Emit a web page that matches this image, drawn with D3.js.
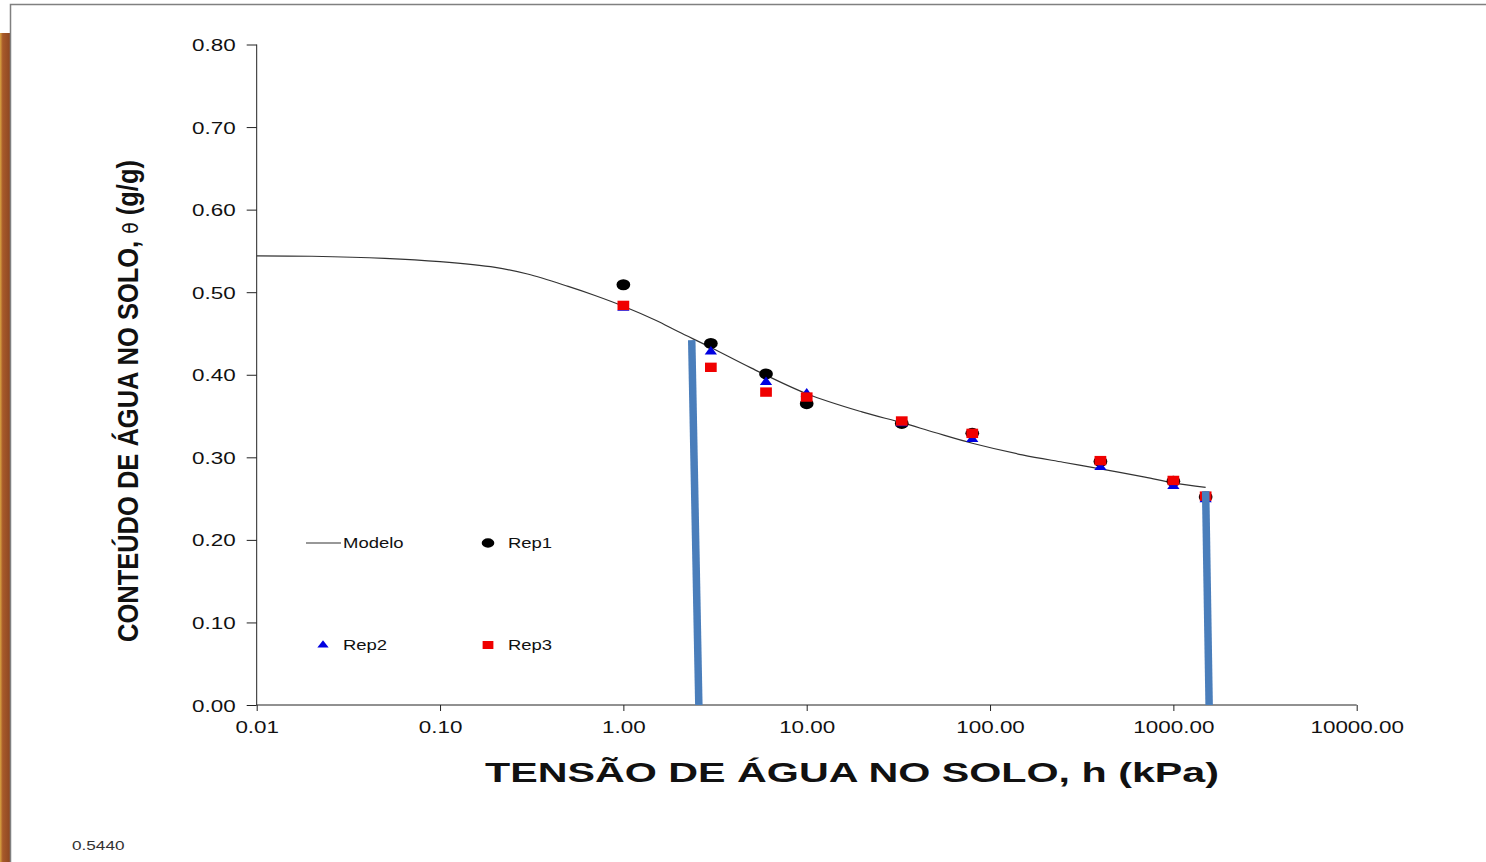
<!DOCTYPE html>
<html>
<head>
<meta charset="utf-8">
<script src="https://cdn.jsdelivr.net/npm/d3@7"></script>
<style>
  body { margin: 0; background: #fff; }
  svg { display: block; }
</style>
</head>
<body>
<div id="chart"></div>
<script>
// Tension (kPa) Of The Measured Points
const tension = [1, 3, 6, 10, 33, 80, 400, 1000, 1500];
// Water Content (g/g) Per Replicate
const rep1 = [0.509, 0.438, 0.401, 0.365, 0.341, 0.329, 0.295, 0.271, 0.252];
const rep2 = [0.481, 0.428, 0.391, 0.377, 0.341, 0.322, 0.288, 0.265, 0.249];
const rep3 = [0.484, 0.409, 0.379, 0.373, 0.344, 0.329, 0.296, 0.272, 0.253];
// Fitted Model Curve
const modelH = [0.01, 0.02, 0.05, 0.1, 0.2, 0.3, 0.5, 0.7, 1, 1.5, 2, 3, 5, 10, 20, 33, 50, 80, 150, 250, 400, 700, 1000, 1500];
const modelTheta = [0.544, 0.5435, 0.541, 0.537, 0.530, 0.522, 0.507, 0.496, 0.483, 0.466, 0.452, 0.433, 0.408, 0.377, 0.355, 0.342, 0.330, 0.317, 0.303, 0.294, 0.286, 0.276, 0.269, 0.2636];
// Blue Marker Bars: [hTop, thetaTop, hBottom, thetaBottom]
const markerBars = [[2.36, 0.442, 2.58, 0], [1500, 0.259, 1567, 0]];
// Tick Labels
const yTicks = [0, 0.1, 0.2, 0.3, 0.4, 0.5, 0.6, 0.7, 0.8];
const xTicks = [0.01, 0.1, 1, 10, 100, 1000, 10000];
const thetaSText = "0.5440";

// Dimensions For SVG Element
let w = 1486, h = 862;
let stretch = 1.32; // the original picture is stretched sideways
let font = "'Liberation Sans', Arial, sans-serif";

let svg = d3.select("#chart").append("svg").attr("width", w).attr("height", h);

// Brown Strip On The Left And Slide Frame
let grad = svg.append("defs").append("linearGradient").attr("id", "wood");
grad.append("stop").attr("offset", "0%").attr("stop-color", "#d9a441");
grad.append("stop").attr("offset", "25%").attr("stop-color", "#a85a2a");
grad.append("stop").attr("offset", "100%").attr("stop-color", "#8a4420");
svg.append("rect").attr("x", 0).attr("y", 33).attr("width", 11).attr("height", h - 33).attr("fill", "url(#wood)");
svg.append("rect").attr("x", 10.5).attr("y", 4.5).attr("width", w).attr("height", h)
  .attr("fill", "#fff").attr("stroke", "#808080").attr("stroke-width", 1.5);

// Scales
let x = d3.scaleLog().domain([0.01, 10000]).range([256.7, 1356.7]);
let y = d3.scaleLinear().domain([0, 0.8]).range([705, 44.5]);

// Minor Ticks
let yMinor = [];
for (let i = 0; i < yTicks.length - 1; i++) [0.025, 0.05, 0.075].forEach((s) => yMinor.push(yTicks[i] + s));
let xMinor = [];
for (let i = 0; i < xTicks.length - 1; i++) for (let k = 2; k <= 9; k++) xMinor.push(xTicks[i] * k);

// Y Axis
let gy = svg.append("g").attr("transform", "translate(" + x(0.01) + ",0)");
gy.call(d3.axisLeft(y).tickValues(yMinor).tickSize(5).tickFormat(""));
gy.call(d3.axisLeft(y).tickValues(yTicks).tickSize(10).tickFormat(d3.format(".2f")));
gy.selectAll("path.domain").attr("d", "M0," + y(0.8) + "V" + y(0)).attr("stroke", "#222");
gy.selectAll("line").attr("stroke", "#222");
gy.selectAll("text").attr("x", 0).attr("dy", null).attr("y", 0)
  .attr("transform", "translate(-21,6) scale(" + stretch + ",1)")
  .style("font-family", font).style("font-size", "17px").attr("fill", "#111");

// X Axis
let gx = svg.append("g").attr("transform", "translate(0," + y(0) + ")");
gx.call(d3.axisBottom(x).tickValues(xMinor).tickSize(4).tickFormat(""));
gx.call(d3.axisBottom(x).tickValues(xTicks).tickSize(6).tickFormat(d3.format(".2f")));
gx.selectAll("path.domain").attr("d", "M" + x(0.01) + ",0H" + x(10000)).attr("stroke", "#222");
gx.selectAll("line").attr("stroke", "#222");
gx.selectAll("text").attr("y", 0).attr("dy", null)
  .attr("transform", "translate(0,28) scale(" + stretch + ",1)")
  .style("font-family", font).style("font-size", "17px").attr("fill", "#111");

// Model Curve
let line = d3.line().x((d) => x(d[0])).y((d) => y(d[1])).curve(d3.curveCatmullRom.alpha(0.5));
svg.append("path").datum(modelH.map((v, i) => [v, modelTheta[i]]))
  .attr("d", line).attr("fill", "none").attr("stroke", "#333").attr("stroke-width", 1.2);

// Marker Shapes (stretched like the original)
let circlePath = d3.symbol(d3.symbolCircle, 95)();
let trianglePath = d3.symbol(d3.symbolTriangle, 42)();
let squarePath = d3.symbol(d3.symbolSquare, 88)();
let series = [
  { name: "Rep1", values: rep1, shape: circlePath, color: "#000" },
  { name: "Rep2", values: rep2, shape: trianglePath, color: "#0000e0" },
  { name: "Rep3", values: rep3, shape: squarePath, color: "#f00000" }
];

series.forEach((s) => {
  svg.append("g").selectAll("path").data(s.values).enter().append("path")
    .attr("d", s.shape).attr("fill", s.color)
    .attr("transform", (d, i) => "translate(" + x(tension[i]) + "," + y(d) + ") scale(1.25,1)");
});

// Blue Bars
svg.append("g").selectAll("line").data(markerBars).enter().append("line")
  .attr("x1", (d) => x(d[0])).attr("y1", (d) => y(d[1]))
  .attr("x2", (d) => x(d[2])).attr("y2", (d) => y(d[3]))
  .attr("stroke", "#4a7ebb").attr("stroke-width", 7.5);

// Legend
let legend = svg.append("g");
legend.append("line").attr("x1", 306).attr("x2", 341).attr("y1", 543).attr("y2", 543).attr("stroke", "#333").attr("stroke-width", 1.2);
let legendItems = [
  { label: "Modelo", mx: null, tx: 343, ty: 543 },
  { label: "Rep1", mx: 488, tx: 508, ty: 543, s: series[0] },
  { label: "Rep2", mx: 323, tx: 343, ty: 645, s: series[1] },
  { label: "Rep3", mx: 488, tx: 508, ty: 645, s: series[2] }
];
legendItems.forEach((d) => {
  if (d.s) legend.append("path").attr("d", d.s.shape).attr("fill", d.s.color)
    .attr("transform", "translate(" + d.mx + "," + d.ty + ") scale(1.15,0.85)");
  legend.append("text").text(d.label)
    .attr("transform", "translate(" + d.tx + "," + (d.ty + 5) + ") scale(" + stretch + ",1)")
    .style("font-family", font).style("font-size", "14px").attr("fill", "#111");
});

// Axis Titles
svg.append("text")
  .attr("transform", "translate(852,782)")
  .attr("text-anchor", "middle").attr("textLength", 734).attr("lengthAdjust", "spacingAndGlyphs")
  .style("font-family", font).style("font-size", "28px").style("font-weight", "bold").attr("fill", "#111")
  .text("TENSÃO DE ÁGUA NO SOLO, h (kPa)");

let yTitle = svg.append("text")
  .attr("transform", "translate(138,401) rotate(-90)")
  .attr("text-anchor", "middle").attr("textLength", 482).attr("lengthAdjust", "spacingAndGlyphs")
  .style("font-family", "'Liberation Sans Narrow', 'Arial Narrow', " + font).style("font-size", "30px").style("font-weight", "bold").attr("fill", "#111");
yTitle.append("tspan").text("CONTEÚDO DE ÁGUA NO SOLO, ");
yTitle.append("tspan").style("font-weight", "normal").style("font-family", "'DejaVu Sans', sans-serif").style("font-size", "22px").text("θ");
yTitle.append("tspan").text(" (g/g)");

// Saturated Water Content Note
svg.append("text").text(thetaSText)
  .attr("transform", "translate(72,850) scale(" + stretch + ",1)")
  .style("font-family", font).style("font-size", "13px").attr("fill", "#333");
</script>
</body>
</html>
